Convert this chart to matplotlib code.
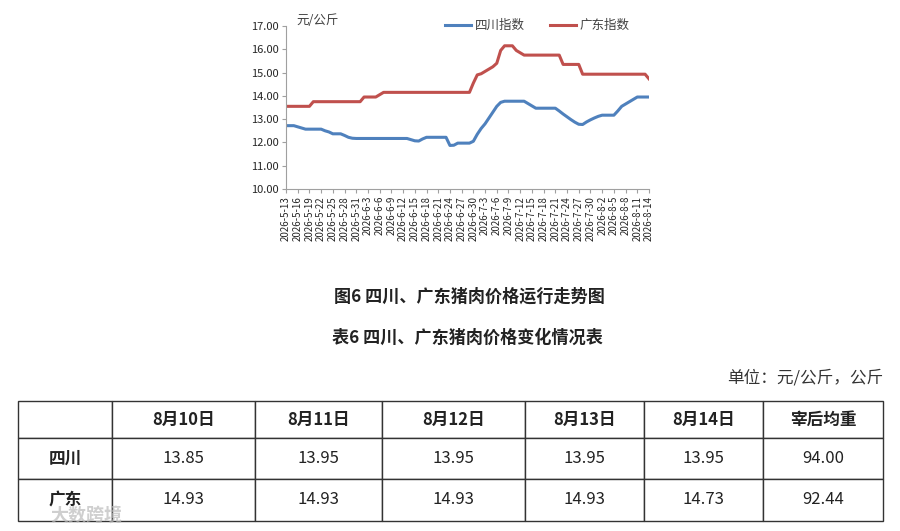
import pandas as pd
import matplotlib.pyplot as plt

plt.rcParams['font.family'] = ['Noto Sans CJK SC', 'DejaVu Sans']

# daily index, 2026-5-13 .. 2026-8-14
start_date = '2026-05-13'
end_date = '2026-08-14'

sichuan = [12.72, 12.72, 12.72, 12.67, 12.62,
           12.57, 12.57, 12.57, 12.57, 12.57,
           12.50, 12.45, 12.37, 12.37, 12.37,
           12.30, 12.22, 12.18,
           12.17, 12.17, 12.17, 12.17, 12.17, 12.17, 12.17,
           12.17, 12.17, 12.17, 12.17, 12.17, 12.17, 12.17,
           12.12, 12.07, 12.06, 12.15,
           12.22, 12.22, 12.22, 12.22, 12.22, 12.22,
           11.87, 11.88, 11.97, 11.97, 11.97, 11.97,
           12.05, 12.35, 12.60, 12.80, 13.05, 13.30, 13.55, 13.72,
           13.77, 13.77, 13.77, 13.77, 13.77, 13.77,
           13.67, 13.57, 13.47,
           13.47, 13.47, 13.47, 13.47, 13.47,
           13.35, 13.22, 13.10, 12.98, 12.87, 12.78, 12.77,
           12.88, 12.97, 13.05, 13.12, 13.17,
           13.17, 13.17, 13.17,
           13.35, 13.55, 13.65, 13.75, 13.85,
           13.95, 13.95, 13.95, 13.95]

guangdong = [13.55, 13.55, 13.55, 13.55, 13.55, 13.55, 13.55,
             13.75, 13.75, 13.75, 13.75, 13.75, 13.75, 13.75,
             13.75, 13.75, 13.75, 13.75, 13.75, 13.75,
             13.95, 13.95, 13.95, 13.95, 14.05,
             14.15, 14.15, 14.15, 14.15, 14.15, 14.15, 14.15, 14.15,
             14.15, 14.15, 14.15, 14.15, 14.15, 14.15, 14.15, 14.15,
             14.15, 14.15, 14.15, 14.15, 14.15, 14.15, 14.15,
             14.55, 14.90, 14.95, 15.05, 15.15, 15.25, 15.40,
             15.95, 16.15, 16.15, 16.15, 15.95, 15.85,
             15.75, 15.75, 15.75, 15.75, 15.75, 15.75, 15.75, 15.75, 15.75, 15.75,
             15.35, 15.35, 15.35, 15.35, 15.35,
             14.93, 14.93, 14.93, 14.93, 14.93, 14.93, 14.93, 14.93, 14.93,
             14.93, 14.93, 14.93, 14.93, 14.93, 14.93, 14.93, 14.93,
             14.73]

# table data
table_cols = ['', '8月10日', '8月11日', '8月12日', '8月13日', '8月14日', '宰后均重']
table_rows = ['四川', '广东']
sichuan_tbl = ['13.85', '13.95', '13.95', '13.95', '13.95', '94.00']
guangdong_tbl = ['14.93', '14.93', '14.93', '14.93', '14.73', '92.44']

dates = pd.date_range(start_date, end_date, freq='D')
labels = [f'{d.year}-{d.month}-{d.day}' for d in dates]
x = list(range(len(dates)))

fig = plt.figure(figsize=(9, 5.31), dpi=100)

ax = fig.add_axes([286 / 900, 1 - 189 / 531, 363 / 900, 163 / 531])
ax.plot(x, sichuan, color='#4F81BD', lw=2.2, label='四川指数')
ax.plot(x, guangdong, color='#C0504D', lw=2.2, label='广东指数')
ax.set_xlim(0, len(x) - 1)
ax.set_ylim(10, 17)
ax.set_yticks(range(10, 18))
ax.set_yticklabels([f'{v:.2f}' for v in range(10, 18)], fontsize=8, color='#262626')
ax.set_xticks(x[::3])
ax.set_xticklabels(labels[::3], rotation=90, fontsize=7, color='#262626')
ax.tick_params(axis='both', length=3, color='#a0a0a0', pad=2)
for s in ['top', 'right']:
    ax.spines[s].set_visible(False)
for s in ['left', 'bottom']:
    ax.spines[s].set_color('#a0a0a0')
fig.text(296 / 900, 1 - 20 / 531, '元/公斤', fontsize=9, color='#404040', va='center', ha='left')
fig.legend(handles=ax.get_lines(), loc='center left', bbox_to_anchor=(445 / 900, 1 - 25.5 / 531),
           ncol=2, frameon=False, fontsize=9, handlelength=2.1, handletextpad=0.3,
           columnspacing=2.0, borderpad=0, borderaxespad=0, labelcolor='#404040')

fig.text(469 / 900, 1 - 297 / 531, '图6 四川、广东猪肉价格运行走势图', ha='center', va='center',
         fontsize=12.3, fontweight='bold', color='#222222')
fig.text(467 / 900, 1 - 338 / 531, '表6 四川、广东猪肉价格变化情况表', ha='center', va='center',
         fontsize=12.3, fontweight='bold', color='#222222')
fig.text(883 / 900, 1 - 378 / 531, '单位：元/公斤，公斤', ha='right', va='center',
         fontsize=12, color='#333333')

# table
tax = fig.add_axes([18 / 900, 1 - 521 / 531, 865 / 900, 120 / 531])
tax.axis('off')
cell_text = [table_cols,
             [table_rows[0]] + sichuan_tbl,
             [table_rows[1]] + guangdong_tbl]
widths = [94, 143, 127, 143, 119, 119, 120]
heights = [37, 41, 42]
tbl = tax.table(cellText=cell_text, colWidths=[w / 865 for w in widths],
                cellLoc='center', bbox=[0, 0, 1, 1])
tbl.auto_set_font_size(False)
for (r, c), cell in tbl.get_celld().items():
    cell.set_height(heights[r] / 120)
    cell.set_edgecolor('#333333')
    cell.set_linewidth(1)
    cell.get_text().set_fontsize(12)
    cell.get_text().set_color('#222222')
    if r == 0 or c == 0:
        cell.get_text().set_fontweight('bold')

fig.text(50 / 900, 1 - 515 / 531, '大数跨境', fontsize=13, color='#bbbbbb', alpha=0.7,
         ha='left', va='center', fontweight='bold')

fig.savefig('out.png', dpi=100)
